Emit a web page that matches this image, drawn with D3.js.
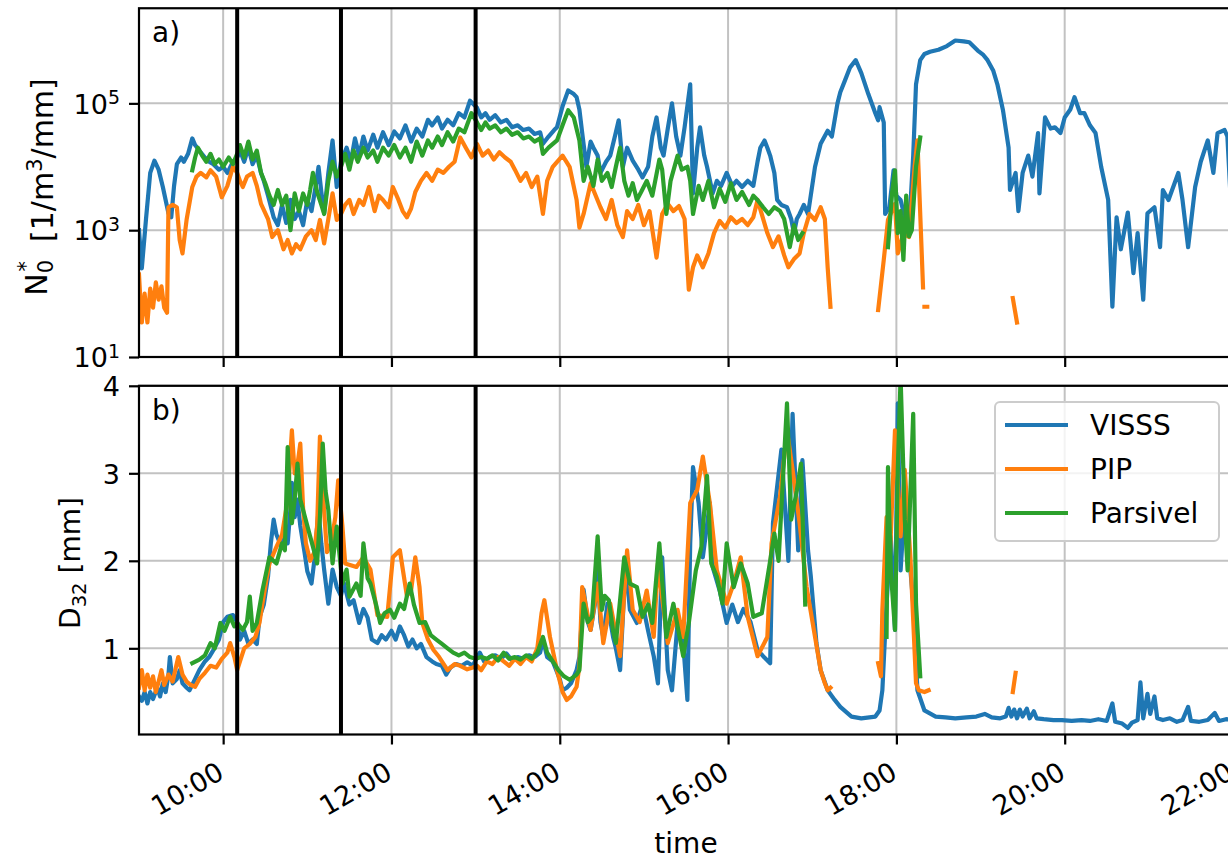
<!DOCTYPE html>
<html><head><meta charset="utf-8">
<script src="https://cdn.jsdelivr.net/npm/d3@7/dist/d3.min.js"></script>
<style>
html,body{margin:0;padding:0;background:#fff;}
svg{display:block;}
text{font-family:"DejaVu Sans",sans-serif;fill:#000;}
</style></head><body>
<svg id="chart" width="1228" height="859"></svg>
<script>
// ---------------- data ----------------
const timeTicks = ["10:00","12:00","14:00","16:00","18:00","20:00","22:00"];
const markerTimes = ["10:10","11:24","13:00"];
const seriesNames = ["VISSS","PIP","Parsivel"];
const n0Ticks = [1e1, 1e3, 1e5];
const d32Ticks = [1, 2, 3, 4];

const visssN0 = [["09:00",1000],["09:02",250],["09:05",1500],["09:08",8000],["09:11",12500],["09:14",9000],["09:17",4800],["09:21",1850],["09:23",1600],["09:25",5000],["09:27",11000],["09:30",14000],["09:32",12000],["09:35",16000],["09:38",28000],["09:40",22000],["09:43",18000],["09:47",14000],["09:50",12000],["09:53",11000],["09:57",9000],["10:00",10000],["10:03",8000],["10:07",12000],["10:10",14000],["10:12",18000],["10:15",12000],["10:18",20000],["10:21",11000],["10:24",15000],["10:27",8000],["10:29",6000],["10:32",3500],["10:36",1600],["10:39",1200],["10:42",2500],["10:45",1300],["10:48",3000],["10:51",1500],["10:54",2000],["10:57",1200],["11:00",3000],["11:03",2000],["11:06",5000],["11:08",10000],["11:10",4000],["11:12",1850],["11:15",8000],["11:18",26000],["11:21",4800],["11:24",12000],["11:28",20000],["11:31",12000],["11:34",28000],["11:37",15000],["11:40",30000],["11:43",18000],["11:47",32000],["11:50",20000],["11:54",35000],["11:58",22000],["12:02",36000],["12:06",28000],["12:10",45000],["12:14",25000],["12:18",40000],["12:22",30000],["12:26",55000],["12:29",45000],["12:33",60000],["12:36",40000],["12:40",55000],["12:44",45000],["12:48",70000],["12:52",60000],["12:56",110000],["13:01",85000],["13:04",60000],["13:07",70000],["13:10",55000],["13:14",65000],["13:18",50000],["13:22",55000],["13:26",42000],["13:30",45000],["13:34",38000],["13:38",40000],["13:42",33000],["13:46",35000],["13:48",23000],["13:52",30000],["13:56",38000],["13:58",42000],["14:02",90000],["14:06",160000],["14:10",140000],["14:12",125000],["14:14",80000],["14:16",34000],["14:19",10000],["14:22",25000],["14:24",20000],["14:27",15000],["14:29",8000],["14:33",12000],["14:36",15000],["14:40",35000],["14:42",54000],["14:45",10000],["14:48",20000],["14:52",12500],["14:56",9000],["14:59",6800],["15:03",10000],["15:06",30000],["15:09",60000],["15:12",20000],["15:14",15000],["15:17",40000],["15:20",100000],["15:23",30000],["15:26",15000],["15:29",42000],["15:33",200000],["15:35",3800],["15:38",20000],["15:40",42000],["15:43",15000],["15:45",10000],["15:49",3800],["15:52",6000],["15:55",5000],["15:59",8000],["16:03",5000],["16:06",6000],["16:10",4800],["16:14",6000],["16:18",5000],["16:21",12000],["16:23",20000],["16:26",26000],["16:28",20000],["16:30",15000],["16:33",8000],["16:35",3000],["16:38",2500],["16:42",2300],["16:45",1500],["16:47",900],["16:49",1500],["16:51",1800],["16:54",2500],["16:57",1800],["17:02",10000],["17:06",23000],["17:11",37000],["17:14",30000],["17:18",100000],["17:20",150000],["17:23",220000],["17:27",370000],["17:31",480000],["17:35",300000],["17:40",140000],["17:45",70000],["17:47",54000],["17:48",87000],["17:51",50000],["17:52",1800],["17:55",2300],["17:58",8800],["18:00",3500],["18:03",3000],["18:06",1600],["18:09",1000],["18:12",15000],["18:14",200000],["18:17",480000],["18:20",600000],["18:24",650000],["18:30",700000],["18:36",800000],["18:42",980000],["18:48",950000],["18:52",920000],["18:58",680000],["19:02",580000],["19:05",480000],["19:09",330000],["19:12",200000],["19:16",78000],["19:20",20000],["19:21",4300],["19:25",8000],["19:27",2000],["19:30",8000],["19:34",15000],["19:37",7000],["19:41",34000],["19:42",3800],["19:46",60000],["19:50",40000],["19:53",42000],["19:57",34000],["20:00",60000],["20:04",80000],["20:07",125000],["20:11",70000],["20:14",70000],["20:18",45000],["20:22",34000],["20:26",10000],["20:31",3000],["20:34",62],["20:37",1600],["20:40",500],["20:45",1900],["20:49",210],["20:52",900],["20:56",80],["20:59",1850],["21:04",2300],["21:08",540],["21:10",4300],["21:14",3000],["21:21",8000],["21:24",3000],["21:28",540],["21:33",4800],["21:37",12000],["21:42",26000],["21:46",8000],["21:49",34000],["21:54",38000],["21:56",30000],["21:58",4300],["22:00",20000]];

const pipN0 = [["09:00",200],["09:01",80],["09:02",35],["09:04",100],["09:06",35],["09:08",120],["09:10",60],["09:12",150],["09:14",80],["09:16",130],["09:18",60],["09:20",50],["09:21",2300],["09:24",2500],["09:27",2300],["09:29",700],["09:31",430],["09:34",1500],["09:38",4800],["09:41",7000],["09:44",8000],["09:48",6800],["09:51",8800],["09:55",7000],["09:59",3300],["10:03",5000],["10:07",10000],["10:10",8000],["10:12",6000],["10:14",4800],["10:17",7000],["10:21",8000],["10:24",5000],["10:27",2600],["10:32",1500],["10:35",780],["10:39",1000],["10:43",500],["10:46",700],["10:49",430],["10:52",600],["10:55",500],["10:59",800],["11:03",1000],["11:06",700],["11:09",1450],["11:12",620],["11:15",1500],["11:18",3800],["11:21",1450],["11:24",1800],["11:27",2500],["11:30",3000],["11:33",1800],["11:37",3000],["11:40",2500],["11:44",4800],["11:48",2000],["11:51",3500],["11:54",3000],["11:58",2300],["12:01",4800],["12:05",3000],["12:08",2000],["12:11",1600],["12:14",2200],["12:17",4000],["12:21",6000],["12:25",8000],["12:29",6000],["12:33",9000],["12:37",8000],["12:41",10000],["12:45",12000],["12:49",29000],["12:53",20000],["12:57",14000],["13:01",23000],["13:05",15000],["13:09",18000],["13:13",13000],["13:17",17000],["13:21",14000],["13:25",12000],["13:28",9000],["13:32",6000],["13:36",8000],["13:40",4800],["13:44",7000],["13:48",1800],["13:51",6000],["13:55",10000],["14:02",15000],["14:07",10000],["14:12",3000],["14:14",1100],["14:17",1800],["14:22",5500],["14:29",2300],["14:33",1500],["14:37",3000],["14:41",1200],["14:45",780],["14:48",2000],["14:52",1500],["14:56",2500],["15:00",1200],["15:04",2000],["15:09",370],["15:13",1800],["15:17",2600],["15:21",2000],["15:25",2400],["15:29",1500],["15:32",115],["15:35",260],["15:38",400],["15:42",260],["15:46",430],["15:50",900],["15:54",1400],["15:58",1100],["16:02",1600],["16:06",1300],["16:10",1500],["16:14",1200],["16:18",1600],["16:21",3000],["16:28",900],["16:32",540],["16:36",800],["16:40",400],["16:43",260],["16:47",350],["16:51",430],["16:54",900],["16:58",1800],["17:02",1450],["17:06",2300],["17:09",1500],["17:11",260],["17:13",62],["17:14",null],["17:47",55],["17:51",340],["17:54",1450],["17:59",2600],["18:01",430],["18:05",900],["18:09",780],["18:13",10000],["18:15",26000],["18:19",125],["18:20",null],["18:20",62],["18:22",62],["18:23",null],["19:23",85],["19:26",35]];

const parsivelN0 = [["09:38",8800],["09:40",14000],["09:42",20000],["09:45",15000],["09:48",12000],["09:51",16000],["09:54",11000],["09:57",13000],["10:00",10000],["10:04",14000],["10:07",11000],["10:10",16000],["10:12",22000],["10:15",14000],["10:18",25000],["10:21",13000],["10:24",18000],["10:27",8000],["10:30",5500],["10:33",3500],["10:36",2500],["10:39",4300],["10:42",2500],["10:45",3500],["10:48",1000],["10:51",3800],["10:54",2000],["10:57",3800],["11:00",2500],["11:02",4300],["11:04",8000],["11:07",4000],["11:10",2500],["11:12",1800],["11:15",6000],["11:18",12000],["11:21",7000],["11:24",10000],["11:27",16000],["11:30",9000],["11:33",18000],["11:36",12000],["11:40",20000],["11:43",14000],["11:47",18000],["11:50",12000],["11:54",20000],["11:58",15000],["12:02",22000],["12:06",14000],["12:10",20000],["12:14",12000],["12:18",25000],["12:22",15000],["12:26",26000],["12:29",20000],["12:33",30000],["12:36",22000],["12:40",35000],["12:44",25000],["12:48",40000],["12:52",35000],["12:57",70000],["13:01",50000],["13:04",38000],["13:07",50000],["13:10",40000],["13:14",45000],["13:18",35000],["13:22",40000],["13:26",32000],["13:30",35000],["13:34",28000],["13:38",30000],["13:42",25000],["13:46",28000],["13:48",16000],["13:52",20000],["13:58",26000],["14:02",45000],["14:06",78000],["14:10",60000],["14:14",26000],["14:17",6000],["14:20",10000],["14:24",5000],["14:27",13000],["14:30",6000],["14:34",8000],["14:37",4800],["14:40",10000],["14:43",20000],["14:46",6000],["14:49",3500],["14:52",5500],["14:55",3000],["14:58",4000],["15:02",6000],["15:06",3500],["15:11",13000],["15:13",9000],["15:16",1800],["15:19",6000],["15:24",15000],["15:27",9000],["15:31",10000],["15:33",6000],["15:35",1800],["15:39",5000],["15:42",3000],["15:46",6000],["15:50",2300],["15:54",4500],["15:58",2800],["16:02",5500],["16:06",3000],["16:10",4000],["16:15",2500],["16:18",3500],["16:21",3000],["16:25",2300],["16:29",1800],["16:33",2300],["16:37",2000],["16:40",1500],["16:44",540],["16:47",1200],["16:50",700],["16:53",900],["16:54",null],["17:54",540],["17:57",4000],["17:59",8800],["18:01",900],["18:03",2000],["18:05",340],["18:07",3500],["18:09",800],["18:11",1000],["18:14",10000],["18:17",29000]];

const visssD32 = [["09:00",0.45],["09:02",0.40],["09:04",0.50],["09:06",0.37],["09:08",0.50],["09:10",0.42],["09:13",0.55],["09:15",0.45],["09:17",0.60],["09:19",0.50],["09:21",0.70],["09:22",0.90],["09:24",0.60],["09:27",0.65],["09:29",0.75],["09:31",0.60],["09:34",0.55],["09:36",0.52],["09:40",0.65],["09:43",0.75],["09:47",0.85],["09:50",0.90],["09:53",0.98],["09:57",1.1],["10:00",1.3],["10:03",1.36],["10:07",1.38],["10:10",1.3],["10:12",1.1],["10:15",1.2],["10:18",1.05],["10:21",1.1],["10:24",1.05],["10:26",1.36],["10:29",1.5],["10:32",1.82],["10:34",2.2],["10:36",2.47],["10:38",2.3],["10:41",2.18],["10:43",2.3],["10:46",2.2],["10:48",2.6],["10:49",2.89],["10:51",2.5],["10:53",2.7],["10:55",2.4],["10:58",2.1],["11:00",1.88],["11:03",1.74],["11:05",2.0],["11:08",2.58],["11:10",2.2],["11:12",1.9],["11:15",1.51],["11:18",1.9],["11:21",1.7],["11:24",1.6],["11:26",1.75],["11:30",1.5],["11:33",1.55],["11:37",1.29],["11:40",1.45],["11:43",1.35],["11:46",1.1],["11:50",1.06],["11:53",1.15],["11:56",1.1],["12:00",1.2],["12:03",1.1],["12:06",1.25],["12:09",1.15],["12:12",1.02],["12:15",1.1],["12:18",1.0],["12:21",1.05],["12:25",0.9],["12:29",0.85],["12:32",0.82],["12:36",0.8],["12:39",0.7],["12:42",0.78],["12:46",0.82],["12:50",0.8],["12:54",0.84],["12:58",0.8],["13:01",0.9],["13:03",0.95],["13:06",0.85],["13:10",0.9],["13:14",0.92],["13:18",0.88],["13:22",0.94],["13:26",0.86],["13:30",0.9],["13:34",0.88],["13:38",0.92],["13:42",0.9],["13:46",0.95],["13:48",1.1],["13:51",0.9],["13:55",0.85],["14:00",0.65],["14:02",0.52],["14:05",0.55],["14:08",0.6],["14:12",0.75],["14:14",0.9],["14:17",1.67],["14:20",1.3],["14:22",1.21],["14:25",1.5],["14:27",1.89],["14:29",1.3],["14:31",1.13],["14:34",1.51],["14:38",1.13],["14:40",1.0],["14:43",0.75],["14:47",1.97],["14:50",1.44],["14:55",1.29],["14:59",1.51],["15:03",1.2],["15:07",0.91],["15:10",0.60],["15:13",2.04],["15:17",0.75],["15:20",0.52],["15:24",1.29],["15:28",1.06],["15:31",0.41],["15:33",2.2],["15:35",3.07],["15:39",2.66],["15:42",2.04],["15:47",2.66],["15:49",1.93],["15:54",1.66],["15:59",1.29],["16:03",1.5],["16:07",1.3],["16:11",1.45],["16:16",1.3],["16:21",0.98],["16:25",0.91],["16:30",0.83],["16:32",2.43],["16:38",3.27],["16:43",2.0],["16:46",3.68],["16:50",2.12],["16:53",3.15],["16:57",2.12],["16:59",1.82],["17:03",1.06],["17:06",0.75],["17:11",0.52],["17:16",0.41],["17:20",0.33],["17:28",0.22],["17:35",0.20],["17:45",0.22],["17:48",0.29],["17:50",0.52],["17:53",1.51],["17:56",2.28],["17:59",1.21],["18:01",3.80],["18:03",1.89],["18:06",2.66],["18:08",2.28],["18:12",1.51],["18:15",0.52],["18:20",0.29],["18:28",0.22],["18:35",0.21],["18:42",0.20],["18:50",0.21],["18:57",0.22],["19:03",0.25],["19:08",0.21],["19:14",0.20],["19:18",0.22],["19:20",0.32],["19:22",0.22],["19:24",0.30],["19:26",0.20],["19:28",0.30],["19:30",0.22],["19:33",0.31],["19:35",0.20],["19:38",0.28],["19:40",0.20],["19:45",0.19],["19:52",0.18],["19:58",0.18],["20:05",0.17],["20:12",0.18],["20:18",0.17],["20:24",0.19],["20:30",0.17],["20:34",0.37],["20:36",0.16],["20:41",0.14],["20:45",0.09],["20:48",0.15],["20:52",0.18],["20:54",0.61],["20:56",0.20],["20:59",0.48],["21:01",0.25],["21:04",0.45],["21:06",0.20],["21:10",0.18],["21:15",0.20],["21:20",0.16],["21:24",0.18],["21:28",0.33],["21:30",0.17],["21:36",0.16],["21:42",0.18],["21:47",0.26],["21:50",0.17],["21:55",0.19],["22:00",0.18]];

const pipD32 = [["09:00",0.55],["09:02",0.75],["09:04",0.52],["09:06",0.70],["09:08",0.55],["09:10",0.68],["09:12",0.50],["09:14",0.62],["09:16",0.75],["09:18",0.58],["09:21",0.70],["09:24",0.62],["09:28",0.90],["09:31",0.70],["09:34",0.62],["09:37",0.58],["09:40",0.56],["09:43",0.65],["09:47",0.72],["09:51",0.80],["09:55",0.78],["09:59",0.88],["10:03",0.95],["10:05",1.06],["10:08",0.90],["10:10",0.75],["10:12",0.85],["10:15",1.0],["10:19",1.05],["10:23",1.13],["10:26",1.3],["10:28",1.51],["10:31",1.8],["10:33",1.97],["10:38",2.16],["10:42",2.3],["10:46",2.7],["10:49",3.49],["10:51",3.0],["10:53",3.1],["10:55",3.34],["10:57",2.6],["10:59",2.2],["11:02",2.0],["11:05",2.1],["11:07",2.4],["11:09",3.42],["11:11",2.8],["11:14",2.1],["11:17",2.2],["11:20",2.5],["11:22",2.92],["11:25",2.4],["11:27",1.97],["11:31",1.95],["11:35",1.93],["11:40",2.04],["11:45",1.9],["11:50",1.38],["11:57",1.36],["12:01",2.04],["12:06",2.12],["12:11",1.6],["12:14",1.66],["12:17",2.04],["12:20",1.7],["12:22",1.29],["12:26",1.1],["12:30",0.98],["12:34",0.9],["12:40",0.75],["12:45",0.82],["12:49",0.80],["12:54",0.76],["12:58",0.78],["13:01",0.80],["13:04",0.75],["13:08",0.85],["13:12",0.82],["13:16",0.90],["13:20",0.85],["13:24",0.80],["13:28",0.88],["13:32",0.82],["13:36",0.90],["13:40",0.85],["13:44",1.0],["13:47",1.4],["13:49",1.55],["13:53",1.13],["13:58",0.75],["14:02",0.5],["14:05",0.41],["14:08",0.45],["14:12",0.56],["14:14",0.8],["14:16",1.70],["14:22",1.21],["14:27",1.74],["14:31",1.06],["14:36",1.51],["14:43",0.91],["14:48",2.12],["14:52",1.44],["14:57",1.3],["15:02",1.66],["15:07",1.13],["15:10",1.97],["15:17",1.06],["15:24",1.44],["15:28",1.13],["15:33",2.66],["15:38",2.81],["15:42",3.19],["15:47",2.66],["15:52",1.89],["15:59",1.51],["16:04",1.74],["16:09",2.04],["16:14",1.36],["16:21",0.91],["16:28",1.13],["16:31",2.20],["16:37",2.73],["16:42",3.49],["16:46",3.04],["16:51",2.43],["16:56",1.7],["17:02",1.13],["17:06",0.75],["17:09",0.6],["17:11",0.52],["17:13",0.55],["17:14",null],["17:47",0.83],["17:49",0.68],["17:50",1.44],["17:53",2.50],["17:55",1.89],["17:59",3.49],["18:03",2.28],["18:06",3.04],["18:10",2.04],["18:14",0.60],["18:16",0.52],["18:20",0.50],["18:23",0.52],["18:24",null],["19:23",0.50],["19:25",0.72]];

const parsivelD32 = [["09:38",0.83],["09:43",0.87],["09:47",0.92],["09:51",1.06],["09:54",1.0],["09:58",1.29],["10:01",1.2],["10:05",1.36],["10:08",1.25],["10:10",1.29],["10:14",1.21],["10:17",1.3],["10:19",1.59],["10:21",1.2],["10:24",1.29],["10:28",1.66],["10:33",2.04],["10:38",1.97],["10:42",2.2],["10:44",2.12],["10:46",3.30],["10:48",2.6],["10:49",2.43],["10:51",2.7],["10:53",3.11],["10:55",2.7],["10:57",2.58],["11:00",2.4],["11:02",2.28],["11:05",2.1],["11:07",1.97],["11:09",2.5],["11:11",3.34],["11:13",2.8],["11:15",2.58],["11:18",1.97],["11:21",2.39],["11:25",1.74],["11:28",1.9],["11:30",1.59],["11:35",1.74],["11:38",1.6],["11:40",2.20],["11:43",1.8],["11:45",1.74],["11:49",1.5],["11:52",1.29],["11:55",1.4],["11:59",1.44],["12:02",1.35],["12:06",1.51],["12:09",1.45],["12:13",1.74],["12:16",1.5],["12:20",1.29],["12:24",1.3],["12:28",1.15],["12:32",1.1],["12:36",1.05],["12:40",1.0],["12:44",0.95],["12:48",0.92],["12:52",0.95],["12:56",0.9],["13:00",0.88],["13:04",0.9],["13:08",0.88],["13:12",0.92],["13:16",0.86],["13:20",0.95],["13:24",0.88],["13:28",0.9],["13:32",0.87],["13:36",0.92],["13:40",0.88],["13:44",0.95],["13:48",1.13],["13:51",0.95],["13:55",0.85],["13:59",0.75],["14:03",0.68],["14:07",0.64],["14:12",0.70],["14:14",0.75],["14:17",1.51],["14:20",1.30],["14:23",1.36],["14:27",2.28],["14:30",1.44],["14:32",1.6],["14:35",1.55],["14:38",1.2],["14:40",1.06],["14:46",2.04],["14:50",1.74],["14:55",1.70],["14:59",1.36],["15:03",1.5],["15:06",1.29],["15:11",2.20],["15:16",1.13],["15:21",1.51],["15:28",0.91],["15:32",1.29],["15:37",1.89],["15:41",2.16],["15:45",2.97],["15:48",1.97],["15:52",1.82],["15:56",1.51],["15:59",2.20],["16:04",1.70],["16:09",1.97],["16:14",1.74],["16:18",1.36],["16:24",1.4],["16:30",2.0],["16:33",2.31],["16:36",2.0],["16:42",3.80],["16:45",2.47],["16:49",2.8],["16:52",3.11],["16:55",1.5],["16:56",null],["17:53",1.13],["17:54",3.07],["17:56",1.89],["17:59",1.21],["18:01",3.04],["18:03",4.1],["18:06",2.47],["18:08",1.89],["18:12",3.68],["18:14",1.51],["18:17",0.68]];

// ---------------- rendering ----------------
const colors = ["#1f77b4", "#ff7f0e", "#2ca02c"];
const svg = d3.select("#chart");
const parseT = d3.timeParse("%H:%M");
const L = 139, R = 1233;
const x = d3.scaleTime().domain([parseT("09:00"), parseT("22:00")]).range([L, R]);

const panels = [
  { id: "a", top: 8.25, bottom: 357,
    y: d3.scaleLog().domain([10, Math.pow(10, 6.5)]).range([357, 8.25]),
    data: [visssN0, pipN0, parsivelN0], ticks: n0Ticks, label: "a)", xLabels: false, log: true },
  { id: "b", top: 385.8, bottom: 734.5,
    y: d3.scaleLinear().domain([0.015, 4]).range([734.5, 385.8]),
    data: [visssD32, pipD32, parsivelD32], ticks: d32Ticks, label: "b)", xLabels: true, log: false }
];

const defs = svg.append("defs");

panels.forEach(p => {
  const g = svg.append("g");
  defs.append("clipPath").attr("id", "clip-" + p.id)
    .append("rect").attr("x", L).attr("y", p.top).attr("width", R - L).attr("height", p.bottom - p.top);

  // grid
  const grid = g.append("g").attr("stroke", "#c2c2c2").attr("stroke-width", 2);
  grid.selectAll(".vg").data(timeTicks.map(parseT)).join("line")
    .attr("x1", d => x(d)).attr("x2", d => x(d)).attr("y1", p.top).attr("y2", p.bottom);
  grid.selectAll(".hg").data(p.ticks).join("line")
    .attr("x1", L).attr("x2", R).attr("y1", d => p.y(d)).attr("y2", d => p.y(d));

  // series lines
  const line = d3.line()
    .defined(d => d[1] !== null)
    .x(d => x(parseT(d[0])))
    .y(d => p.y(d[1]));
  const lg = g.append("g").attr("clip-path", `url(#clip-${p.id})`);
  p.data.forEach((s, i) => {
    lg.append("path").datum(s).attr("d", line)
      .attr("fill", "none").attr("stroke", colors[i]).attr("stroke-width", 4.2)
      .attr("stroke-linejoin", "round").attr("stroke-linecap", "square");
  });

  // vertical marker lines
  g.append("g").selectAll("line").data(markerTimes.map(parseT)).join("line")
    .attr("x1", d => x(d)).attr("x2", d => x(d)).attr("y1", p.top).attr("y2", p.bottom)
    .attr("stroke", "#000").attr("stroke-width", 4);

  // frame
  g.append("rect").attr("x", L).attr("y", p.top).attr("width", R - L).attr("height", p.bottom - p.top)
    .attr("fill", "none").attr("stroke", "#000").attr("stroke-width", 2.2);

  // x axis
  const xa = g.append("g").attr("transform", `translate(0,${p.bottom})`)
    .call(d3.axisBottom(x).tickValues(timeTicks.map(parseT)).tickSize(10).tickSizeOuter(0)
      .tickFormat(p.xLabels ? d3.timeFormat("%H:%M") : () => ""));
  xa.select(".domain").remove();
  xa.selectAll(".tick line").attr("stroke", "#000").attr("stroke-width", 2.2);
  xa.attr("font-family", "DejaVu Sans").attr("font-size", 27);
  if (p.xLabels) {
    xa.selectAll(".tick text").attr("x", 0).attr("y", 0).attr("dy", 0)
      .attr("text-anchor", "end").attr("fill", "#000")
      .attr("transform", "translate(2,43) rotate(-30)");
  }

  // y axis
  const ya = g.append("g").attr("transform", `translate(${L},0)`)
    .call(d3.axisLeft(p.y).tickValues(p.ticks).tickSize(10).tickSizeOuter(0).tickPadding(9)
      .tickFormat(d => p.log ? "" : String(d)));
  ya.select(".domain").remove();
  ya.selectAll(".tick line").attr("stroke", "#000").attr("stroke-width", 2.2);
  ya.attr("font-family", "DejaVu Sans").attr("font-size", 27);
  ya.selectAll(".tick text").attr("fill", "#000").attr("dy", "0.36em");
  if (p.log) {
    ya.selectAll(".tick text").each(function(d) {
      const t = d3.select(this);
      t.append("tspan").text("10");
      t.append("tspan").attr("dy", "-0.5em").attr("font-size", "0.7em").text(Math.round(Math.log10(d)));
    });
  }

  // panel letter
  g.append("text").attr("x", 152).attr("y", p.top + 34).attr("font-size", 28).text(p.label);
});

// y labels
const yl1 = svg.append("text").attr("transform", "translate(47,187) rotate(-90)")
  .attr("text-anchor", "middle").attr("font-size", 30);
yl1.append("tspan").text("N");
yl1.append("tspan").attr("font-size", "0.7em").attr("dy", "0.3em").text("0");
yl1.append("tspan").attr("font-size", "0.7em").attr("dx", "-0.55em").attr("dy", "-0.95em").text("*");
yl1.append("tspan").attr("dy", "0.65em").text("\u00a0 [1/m");
yl1.append("tspan").attr("font-size", "0.7em").attr("dy", "-0.5em").text("3");
yl1.append("tspan").attr("dy", "0.35em").text("/mm]");

const yl2 = svg.append("text").attr("transform", "translate(80,563) rotate(-90)")
  .attr("text-anchor", "middle").attr("font-size", 28);
yl2.append("tspan").text("D");
yl2.append("tspan").attr("font-size", "0.7em").attr("dy", "0.3em").text("32");
yl2.append("tspan").attr("dy", "-0.21em").text(" [mm]");

// x label
svg.append("text").attr("x", (L + R) / 2).attr("y", 853).attr("text-anchor", "middle")
  .attr("font-size", 28).text("time");

// legend
const leg = svg.append("g");
leg.append("rect").attr("x", 995).attr("y", 402).attr("width", 224).attr("height", 139).attr("rx", 5)
  .attr("fill", "#fff").attr("fill-opacity", 0.8).attr("stroke", "#cccccc").attr("stroke-width", 2);
seriesNames.forEach((n, i) => {
  const yy = 425 + i * 44;
  leg.append("line").attr("x1", 1005).attr("x2", 1068).attr("y1", yy).attr("y2", yy)
    .attr("stroke", colors[i]).attr("stroke-width", 4);
  leg.append("text").attr("x", 1090).attr("y", yy).attr("dy", "0.36em").attr("font-size", 28).text(n);
});
</script>
</body></html>
